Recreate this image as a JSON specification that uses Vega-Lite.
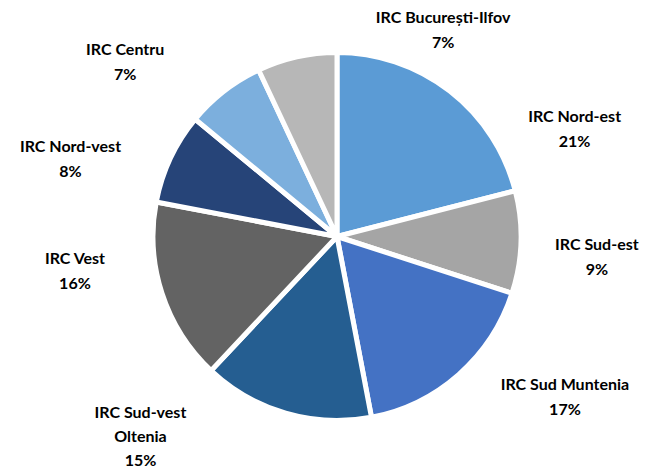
{
  "$schema": "https://vega.github.io/schema/vega-lite/v6.json",
  "width": 650,
  "height": 473,
  "autosize": {"type": "none"},
  "padding": {"left": 12, "top": 0, "right": 0, "bottom": 0},
  "background": "white",
  "data": {
    "values": [
      {"ord": 1, "region": "IRC Nord-est", "label": "IRC Nord-est\n21%", "pct": 21},
      {"ord": 2, "region": "IRC Sud-est", "label": "IRC Sud-est\n9%", "pct": 9},
      {"ord": 3, "region": "IRC Sud Muntenia", "label": "IRC Sud Muntenia\n17%", "pct": 17},
      {"ord": 4, "region": "IRC Sud-vest Oltenia", "label": "IRC Sud-vest\nOltenia\n15%", "pct": 15},
      {"ord": 5, "region": "IRC Vest", "label": "IRC Vest\n16%", "pct": 16},
      {"ord": 6, "region": "IRC Nord-vest", "label": "IRC Nord-vest\n8%", "pct": 8},
      {"ord": 7, "region": "IRC Centru", "label": "IRC Centru\n7%", "pct": 7},
      {"ord": 8, "region": "IRC București-Ilfov", "label": "IRC București-Ilfov\n7%", "pct": 7}
    ]
  },
  "encoding": {
    "theta": {"field": "pct", "type": "quantitative", "stack": true},
    "order": {"field": "ord", "type": "quantitative"}
  },
  "layer": [
    {
      "mark": {"type": "arc", "outerRadius": 184, "stroke": "white", "strokeWidth": 5},
      "encoding": {
        "color": {
          "field": "region",
          "type": "nominal",
          "legend": null,
          "scale": {
            "domain": ["IRC Nord-est", "IRC Sud-est", "IRC Sud Muntenia", "IRC Sud-vest Oltenia", "IRC Vest", "IRC Nord-vest", "IRC Centru", "IRC București-Ilfov"],
            "range": ["#5B9BD5", "#A5A5A5", "#4472C4", "#255E91", "#636363", "#264478", "#7CAFDD", "#B7B7B7"]
          }
        }
      }
    },
    {
      "mark": {"type": "text", "radius": 266, "thetaOffset": 0.445, "font": "Lato", "fontWeight": "bold", "fontSize": 16, "lineBreak": "\n", "lineHeight": 25, "align": "center", "baseline": "middle", "color": "#000000"},
      "encoding": {"text": {"condition": {"test": "datum.region === 'IRC Nord-est'", "field": "label"}, "value": ""}}
    },
    {
      "mark": {"type": "text", "radius": 260, "thetaOffset": 0.0, "font": "Lato", "fontWeight": "bold", "fontSize": 16, "lineBreak": "\n", "lineHeight": 25, "align": "center", "baseline": "middle", "color": "#000000"},
      "encoding": {"text": {"condition": {"test": "datum.region === 'IRC Sud-est'", "field": "label"}, "value": ""}}
    },
    {
      "mark": {"type": "text", "radius": 272, "thetaOffset": -0.271, "font": "Lato", "fontWeight": "bold", "fontSize": 16, "lineBreak": "\n", "lineHeight": 25, "align": "center", "baseline": "middle", "color": "#000000"},
      "encoding": {"text": {"condition": {"test": "datum.region === 'IRC Sud Muntenia'", "field": "label"}, "value": ""}}
    },
    {
      "mark": {"type": "text", "radius": 264, "thetaOffset": 0.557, "font": "Lato", "fontWeight": "bold", "fontSize": 16, "lineBreak": "\n", "lineHeight": 24, "align": "center", "baseline": "middle", "color": "#000000"},
      "encoding": {"text": {"condition": {"test": "datum.region === 'IRC Sud-vest Oltenia'", "field": "label"}, "value": ""}}
    },
    {
      "mark": {"type": "text", "radius": 263, "thetaOffset": 0.229, "font": "Lato", "fontWeight": "bold", "fontSize": 16, "lineBreak": "\n", "lineHeight": 25, "align": "center", "baseline": "middle", "color": "#000000"},
      "encoding": {"text": {"condition": {"test": "datum.region === 'IRC Vest'", "field": "label"}, "value": ""}}
    },
    {
      "mark": {"type": "text", "radius": 281, "thetaOffset": -0.117, "font": "Lato", "fontWeight": "bold", "fontSize": 16, "lineBreak": "\n", "lineHeight": 25, "align": "center", "baseline": "middle", "color": "#000000"},
      "encoding": {"text": {"condition": {"test": "datum.region === 'IRC Nord-vest'", "field": "label"}, "value": ""}}
    },
    {
      "mark": {"type": "text", "radius": 282, "thetaOffset": -0.19, "font": "Lato", "fontWeight": "bold", "fontSize": 16, "lineBreak": "\n", "lineHeight": 25, "align": "center", "baseline": "middle", "color": "#000000"},
      "encoding": {"text": {"condition": {"test": "datum.region === 'IRC Centru'", "field": "label"}, "value": ""}}
    },
    {
      "mark": {"type": "text", "radius": 243, "thetaOffset": 0.672, "font": "Lato", "fontWeight": "bold", "fontSize": 16, "lineBreak": "\n", "lineHeight": 25, "align": "center", "baseline": "middle", "color": "#000000"},
      "encoding": {"text": {"condition": {"test": "datum.region === 'IRC București-Ilfov'", "field": "label"}, "value": ""}}
    }
  ]
}
